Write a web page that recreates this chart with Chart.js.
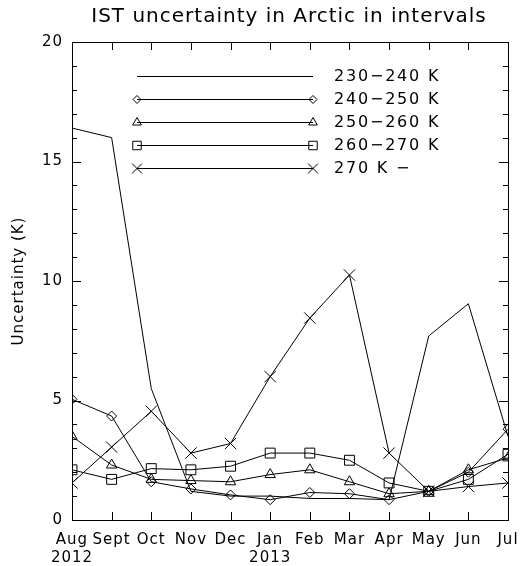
<!DOCTYPE html>
<html>
<head>
<meta charset="utf-8">
<script src="https://cdn.jsdelivr.net/npm/chart.js@4/dist/chart.umd.min.js"></script>
<style>
html,body{margin:0;padding:0;background:#fff;}
#c{display:block;}
</style>
</head>
<body>
<canvas id="c" width="529" height="566"></canvas>
<script>
const months = [['Aug','2012'],'Sept','Oct','Nov','Dec',['Jan','2013'],'Feb','Mar','Apr','May','Jun','Jul'];
const seriesNames = ['230\u2212240 K','240\u2212250 K','250\u2212260 K','260\u2212270 K','270 K \u2212'];
const s230 = [16.4, 16.0, 5.5, 1.2, 1.0, 1.0, 0.9, 0.9, 0.85, 7.7, 9.05, 3.5];
const s240 = [5.05, 4.35, 1.6, 1.3, 1.05, 0.85, 1.15, 1.1, 0.85, 1.2, 2.0, 3.8];
const s250 = [3.5, 2.3, 1.7, 1.65, 1.6, 1.9, 2.1, 1.6, 1.1, 1.2, 2.1, 2.6];
const s260 = [2.1, 1.7, 2.15, 2.1, 2.25, 2.8, 2.8, 2.5, 1.55, 1.2, 1.7, 2.75];
const s270 = [1.55, 3.05, 4.55, 2.8, 3.2, 6.0, 8.45, 10.25, 2.8, 1.2, 1.4, 1.55];
const yTicks = [0, 5, 10, 15, 20];

const FONT = 'DejaVu Sans';
const styles = [
  {pointStyle: false, r: 0},
  {pointStyle: 'rectRot', r: 5},
  {pointStyle: 'triangle', r: 6},
  {pointStyle: 'rect', r: 7},
  {pointStyle: 'crossRot', r: 8}
];
const values = [s230, s240, s250, s260, s270];

const datasets = values.map((v, i) => ({
  label: seriesNames[i],
  data: v,
  borderColor: '#000',
  borderWidth: 1,
  backgroundColor: 'rgba(0,0,0,0)',
  pointStyle: styles[i].pointStyle,
  pointRadius: styles[i].r,
  pointHoverRadius: styles[i].r,
  pointBorderColor: '#000',
  pointBackgroundColor: 'rgba(0,0,0,0)',
  pointBorderWidth: 1,
  tension: 0,
  fill: false,
  clip: 0
}));

function drawMarker(ctx, style, r, x, y) {
  if (!style) return;
  ctx.save();
  ctx.strokeStyle = '#000';
  ctx.lineWidth = 1;
  ctx.beginPath();
  if (style === 'rectRot') {
    ctx.moveTo(x - r, y); ctx.lineTo(x, y - r); ctx.lineTo(x + r, y); ctx.lineTo(x, y + r); ctx.closePath();
  } else if (style === 'triangle') {
    const h = r * 0.866;
    ctx.moveTo(x, y - r); ctx.lineTo(x + h, y + r / 2); ctx.lineTo(x - h, y + r / 2); ctx.closePath();
  } else if (style === 'rect') {
    const s = r * Math.SQRT1_2;
    ctx.rect(x - s, y - s, 2 * s, 2 * s);
  } else if (style === 'crossRot') {
    const s = r * Math.SQRT1_2;
    ctx.moveTo(x - s, y - s); ctx.lineTo(x + s, y + s);
    ctx.moveTo(x + s, y - s); ctx.lineTo(x - s, y + s);
  }
  ctx.stroke();
  ctx.restore();
}

const framePlugin = {
  id: 'frame',
  beforeDraw(chart) {
    chart.ctx.letterSpacing = '1px';
  },
  afterDraw(chart) {
    const ctx = chart.ctx;
    const a = chart.chartArea;
    const xs = chart.scales.x, ys = chart.scales.y;
    ctx.save();
    ctx.strokeStyle = '#000';
    ctx.lineWidth = 1;
    ctx.strokeRect(Math.round(a.left) + 0.5, Math.round(a.top) + 0.5, Math.round(a.right - a.left), Math.round(a.bottom - a.top));
    ctx.beginPath();
    for (let v = ys.min; v <= ys.max; v += 1) {
      const py = Math.round(ys.getPixelForValue(v)) + 0.5;
      const len = (v % 5 === 0) ? 9 : 5;
      ctx.moveTo(a.left, py); ctx.lineTo(a.left + len, py);
      ctx.moveTo(a.right, py); ctx.lineTo(a.right - len, py);
    }
    for (let i = 0; i < months.length; i++) {
      const px = Math.round(xs.getPixelForValue(i)) + 0.5;
      ctx.moveTo(px, a.bottom); ctx.lineTo(px, a.bottom - 8);
      ctx.moveTo(px, a.top); ctx.lineTo(px, a.top + 8);
    }
    ctx.stroke();

    ctx.fillStyle = '#000';
    ctx.letterSpacing = '1px';
    ctx.font = '20px "' + FONT + '"';
    ctx.textAlign = 'center';
    ctx.textBaseline = 'middle';
    ctx.fillText('IST uncertainty in Arctic in intervals', 289, 17);

    const x0 = a.left + 65, x1 = a.left + 241, tx = a.left + 262;
    ctx.font = '16px "' + FONT + '"';
    ctx.letterSpacing = '1.8px';
    ctx.textAlign = 'left';
    for (let i = 0; i < seriesNames.length; i++) {
      const y = Math.round(a.top + 34 + i * 23) + 0.5;
      ctx.beginPath();
      ctx.moveTo(x0, y); ctx.lineTo(x1, y);
      ctx.stroke();
      drawMarker(ctx, styles[i].pointStyle, styles[i].r - 1, x0, y);
      drawMarker(ctx, styles[i].pointStyle, styles[i].r - 1, x1, y);
      ctx.fillText(seriesNames[i], tx, y);
    }
    ctx.restore();
  }
};

new Chart(document.getElementById('c'), {
  type: 'line',
  data: {labels: months, datasets},
  options: {
    responsive: false,
    animation: false,
    layout: {padding: {top: 42, right: 21, left: 0, bottom: 0}},
    plugins: {legend: {display: false}, title: {display: false}, tooltip: {enabled: false}},
    scales: {
      x: {
        type: 'category',
        offset: false,
        grid: {display: false, drawTicks: false},
        border: {display: false},
        ticks: {color: '#000', font: {family: FONT, size: 15, lineHeight: 1.2}, padding: 11, maxRotation: 0, autoSkip: false},
        afterFit(s) { s.height = 46; }
      },
      y: {
        min: 0, max: 20,
        grid: {display: false, drawTicks: false},
        border: {display: false},
        afterBuildTicks(s) { s.ticks = yTicks.map(v => ({value: v})); },
        ticks: {color: '#000', font: {family: FONT, size: 15}, padding: 9},
        title: {display: true, text: 'Uncertainty (K)', color: '#000', font: {family: FONT, size: 15}, padding: {top: 10, bottom: 0}},
        afterFit(s) { s.width = 72; }
      }
    }
  },
  plugins: [framePlugin]
});
</script>
</body>
</html>
